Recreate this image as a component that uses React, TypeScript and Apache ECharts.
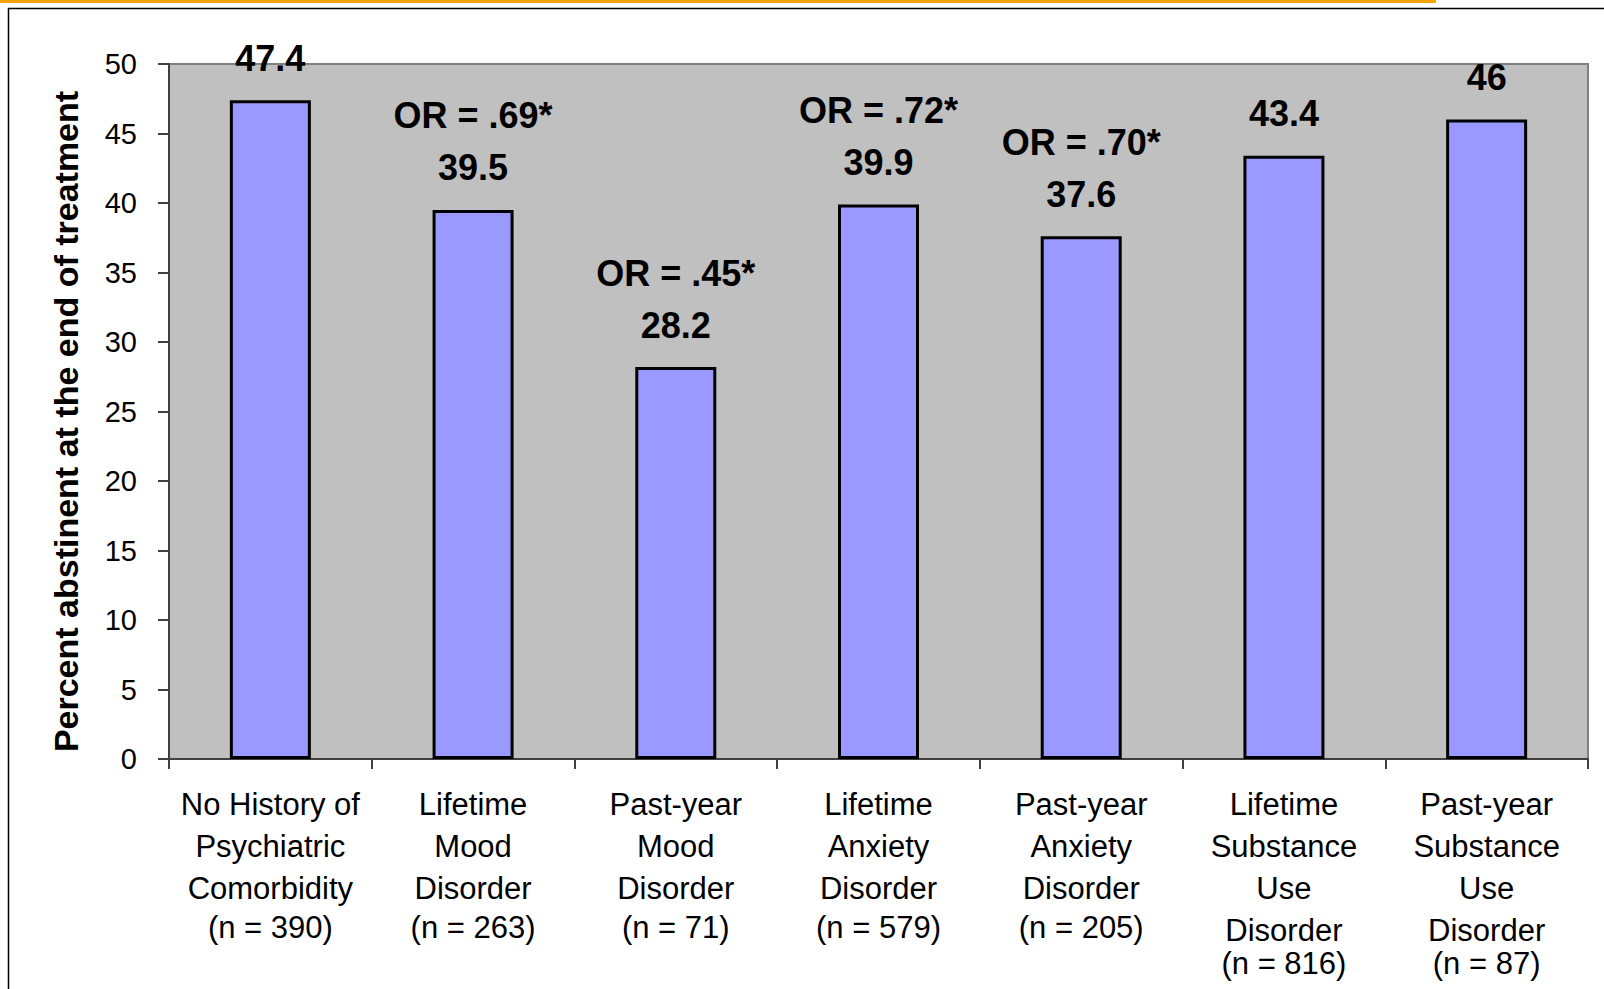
import React, { useEffect, useRef } from "react";
import * as echarts from "echarts";

const categoryLines: string[][] = [
  ["No History of", "Psychiatric", "Comorbidity"],
  ["Lifetime", "Mood", "Disorder"],
  ["Past-year", "Mood", "Disorder"],
  ["Lifetime", "Anxiety", "Disorder"],
  ["Past-year", "Anxiety", "Disorder"],
  ["Lifetime", "Substance", "Use", "Disorder"],
  ["Past-year", "Substance", "Use", "Disorder"],
];
const sampleSizes: string[] = ["390", "263", "71", "579", "205", "816", "87"];
const values: number[] = [47.4, 39.5, 28.2, 39.9, 37.6, 43.4, 46];
const oddsRatios: string[] = ["", ".69*", ".45*", ".72*", ".70*", "", ""];
const yTicks = { min: 0, max: 50, interval: 5 };
const yAxisTitle = "Percent abstinent at the end of treatment";

const FONT = "'Liberation Sans', Arial, Helvetica, sans-serif";

export default function App() {
  const ref = useRef<HTMLDivElement>(null);
  useEffect(() => {
    if (!ref.current) return;
    const chart = echarts.init(ref.current, null, { renderer: "svg" });
    const categories = categoryLines.map((l, i) => String(i));
    chart.setOption({
      animation: false,
      backgroundColor: "#ffffff",
      textStyle: { fontFamily: FONT },
      graphic: [
        {
          type: "rect",
          shape: { x: 0, y: 0, width: 1436, height: 3 },
          style: { fill: "#f5a300" },
          silent: true,
        },
        {
          type: "rect",
          shape: { x: 8.5, y: 8.5, width: 1700, height: 1100 },
          style: { fill: "none", stroke: "#000000", lineWidth: 1.5 },
          silent: true,
        },
      ],
      grid: {
        left: 169,
        top: 64,
        right: 16,
        bottom: 230,
        show: true,
        backgroundColor: "#c0c0c0",
        borderColor: "#808080",
        borderWidth: 2,
      },
      xAxis: {
        type: "category",
        data: categories,
        axisLine: { show: true, lineStyle: { color: "#404040", width: 2 } },
        axisTick: { show: true, length: 10, lineStyle: { color: "#404040", width: 2 } },
        axisLabel: {
          interval: 0,
          margin: 24,
          color: "#000000",
          fontFamily: FONT,
          formatter: (v: string) => {
            const i = Number(v);
            const lines = categoryLines[i].map((s) => `{a|${s}}`);
            const nStyle = categoryLines[i].length > 3 ? "n5" : "n4";
            lines.push(`{${nStyle}|(n = ${sampleSizes[i]})}`);
            return lines.join("\n");
          },
          rich: {
            a: { fontSize: 31, lineHeight: 42, color: "#000", fontFamily: FONT },
            n4: { fontSize: 31, lineHeight: 36, color: "#000", fontFamily: FONT },
            n5: { fontSize: 31, lineHeight: 24, color: "#000", fontFamily: FONT },
          },
        },
      },
      yAxis: {
        type: "value",
        min: yTicks.min,
        max: yTicks.max,
        interval: yTicks.interval,
        name: yAxisTitle,
        nameLocation: "middle",
        nameGap: 86,
        nameTextStyle: {
          fontSize: 34,
          fontWeight: "bold",
          color: "#000",
          fontFamily: FONT,
          padding: [0, 20, 0, 0],
        },
        axisLine: { show: true, lineStyle: { color: "#404040", width: 2 } },
        axisTick: { show: true, length: 11, lineStyle: { color: "#404040", width: 2 } },
        axisLabel: { fontSize: 29, color: "#000", margin: 32, fontFamily: FONT },
        splitLine: { show: false },
      },
      series: [
        {
          type: "bar",
          data: values,
          barWidth: 81,
          itemStyle: { color: "#9999ff", borderColor: "#000000", borderWidth: 3 },
          label: {
            show: true,
            position: "top",
            distance: 16,
            formatter: (p: any) => {
              const i = p.dataIndex;
              const v = `{b|${String(values[i])}}`;
              return oddsRatios[i] ? `{b|OR = ${oddsRatios[i]}}\n${v}` : v;
            },
            rich: {
              b: {
                fontSize: 36,
                fontWeight: "bold",
                lineHeight: 52,
                color: "#000",
                fontFamily: FONT,
              },
            },
          },
        },
      ],
    });
    return () => chart.dispose();
  }, []);
  return (
    <div
      ref={ref}
      style={{ position: "fixed", left: 0, top: 0, width: 1604, height: 989 }}
    />
  );
}
